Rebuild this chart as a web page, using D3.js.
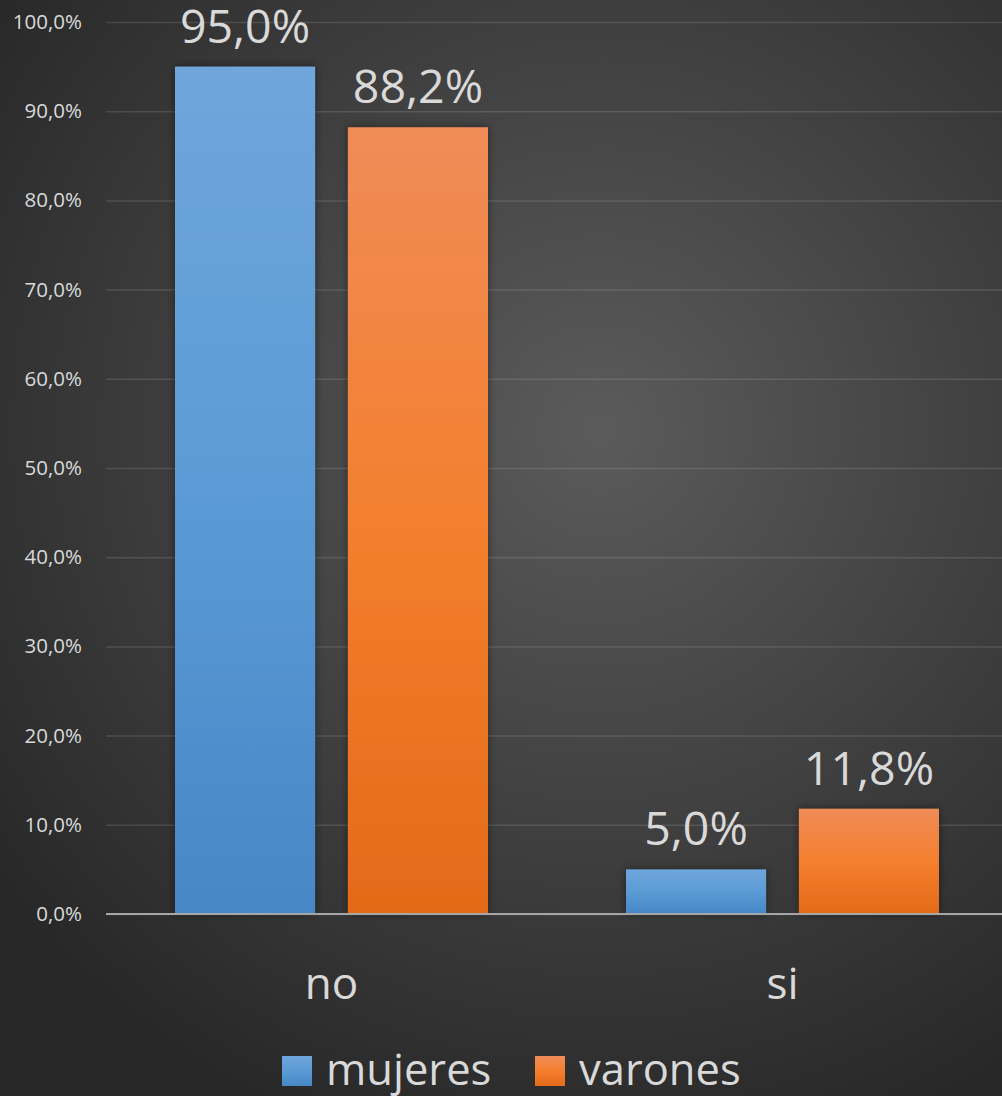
<!DOCTYPE html>
<html><head><meta charset="utf-8">
<script src="https://cdn.jsdelivr.net/npm/d3@7/dist/d3.min.js"></script>
<style>html,body{margin:0;padding:0;background:#2b2b2b;}svg{display:block;}</style>
</head><body>
<script>
const categories = ["no", "si"];
const seriesNames = ["mujeres", "varones"];
const mujeres = [0.95, 0.05];
const varones = [0.882, 0.118];
const yTicks = [0, 0.1, 0.2, 0.3, 0.4, 0.5, 0.6, 0.7, 0.8, 0.9, 1.0];

const W = 1002, H = 1096;
const font = "'Open Sans', 'Noto Sans', sans-serif";
const fmt = v => d3.format(".1f")(v * 100).replace(".", ",") + "%";

const svg = d3.select("body").append("svg").attr("width", W).attr("height", H);
const defs = svg.append("defs");
const bg = defs.append("radialGradient").attr("id", "bg").attr("gradientUnits", "userSpaceOnUse")
  .attr("cx", 600).attr("cy", 430).attr("r", 760);
bg.append("stop").attr("offset", "0%").attr("stop-color", "#5b5b5b");
bg.append("stop").attr("offset", "100%").attr("stop-color", "#272727");

const gradBlue = defs.append("linearGradient").attr("id", "gBlue").attr("x1", 0).attr("y1", 0).attr("x2", 0).attr("y2", 1);
gradBlue.append("stop").attr("offset", "0%").attr("stop-color", "#6fa6dc");
gradBlue.append("stop").attr("offset", "50%").attr("stop-color", "#5b9bd5");
gradBlue.append("stop").attr("offset", "100%").attr("stop-color", "#4687c7");
const gradOr = defs.append("linearGradient").attr("id", "gOr").attr("x1", 0).attr("y1", 0).attr("x2", 0).attr("y2", 1);
gradOr.append("stop").attr("offset", "0%").attr("stop-color", "#f08c58");
gradOr.append("stop").attr("offset", "50%").attr("stop-color", "#f47f2e");
gradOr.append("stop").attr("offset", "100%").attr("stop-color", "#e36a18");
const sh = defs.append("filter").attr("id", "shadow").attr("x", "-20%").attr("y", "-20%").attr("width", "140%").attr("height", "140%");
sh.append("feDropShadow").attr("dx", 0).attr("dy", 0).attr("stdDeviation", 4).attr("flood-color", "#000").attr("flood-opacity", 0.45);

svg.append("rect").attr("width", W).attr("height", H).attr("fill", "url(#bg)");

const x0 = d3.scaleBand().domain(categories).range([106, 1008]).paddingInner(0.306).paddingOuter(0.153);
const x1 = d3.scaleBand().domain(seriesNames).range([0, x0.bandwidth()]).paddingInner(0.19).paddingOuter(0);
const y = d3.scaleLinear().domain([0, 1]).range([914, 22]);

// gridlines
const yAxis = d3.axisLeft(y).tickValues(yTicks).tickFormat(fmt).tickSize(-(1008 - 106)).tickPadding(24);
const ga = svg.append("g").attr("transform", "translate(106,0)").call(yAxis);
ga.select(".domain").remove();
ga.selectAll(".tick line").attr("stroke", "#ffffff").attr("stroke-opacity", 0.12).attr("stroke-width", 1.5);
ga.selectAll(".tick text").attr("fill", "#d9d9d9").attr("font-family", font).attr("font-size", 20.5);

const colors = {mujeres: "url(#gBlue)", varones: "url(#gOr)"};
const data = categories.map((c, i) => ({cat: c, vals: [{s: "mujeres", v: mujeres[i]}, {s: "varones", v: varones[i]}]}));

const groups = svg.append("g").selectAll("g").data(data).join("g")
  .attr("transform", d => `translate(${x0(d.cat)},0)`);
groups.selectAll("rect").data(d => d.vals).join("rect")
  .attr("x", d => x1(d.s)).attr("width", x1.bandwidth())
  .attr("y", d => y(d.v)).attr("height", d => y(0) - y(d.v))
  .attr("fill", d => colors[d.s]).attr("filter", "url(#shadow)");
groups.selectAll("text").data(d => d.vals).join("text")
  .attr("x", d => x1(d.s) + x1.bandwidth() / 2).attr("y", d => y(d.v) - 24)
  .attr("text-anchor", "middle").attr("fill", "#d9d9d9")
  .attr("font-family", font).attr("font-size", 46.5).text(d => fmt(d.v));

// baseline
svg.append("line").attr("x1", 106).attr("x2", 1008).attr("y1", y(0)).attr("y2", y(0))
  .attr("stroke", "#a6a6a6").attr("stroke-width", 2);

// category axis
const xAxis = d3.axisBottom(x0).tickSize(0).tickPadding(0);
const gx = svg.append("g").attr("transform", `translate(0,${y(0)})`).call(xAxis);
gx.select(".domain").remove();
gx.selectAll(".tick text").attr("fill", "#d9d9d9").attr("font-family", font).attr("font-size", 44)
  .attr("dy", null).attr("y", 85);

// legend
const legend = [{s: "mujeres", x: 282}, {s: "varones", x: 535}];
const lg = svg.append("g").selectAll("g").data(legend).join("g");
lg.append("rect").attr("x", d => d.x).attr("y", 1056).attr("width", 30).attr("height", 30).attr("fill", d => colors[d.s]);
lg.append("text").attr("x", d => d.x + 44).attr("y", 1085).attr("fill", "#d9d9d9")
  .attr("font-family", font).attr("font-size", 43.5).text(d => d.s);
</script>
</body></html>
